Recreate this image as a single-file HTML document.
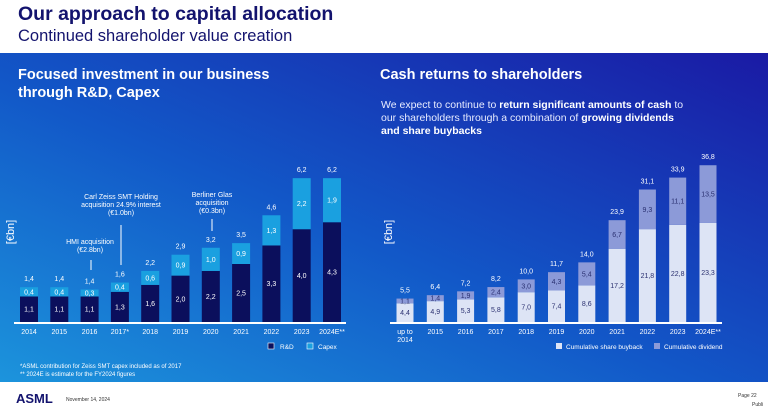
<!DOCTYPE html>
<html><head><meta charset="utf-8"><style>
html,body{margin:0;padding:0;width:768px;height:413px;overflow:hidden;background:#fff;font-family:"Liberation Sans",sans-serif}
svg text{font-family:"Liberation Sans",sans-serif}
</style></head><body>
<svg width="768" height="413" xmlns="http://www.w3.org/2000/svg">
<defs>
<linearGradient id="bg" x1="0" y1="1" x2="1" y2="0">
<stop offset="0" stop-color="#1c94dc"/><stop offset="0.45" stop-color="#1258c8"/><stop offset="1" stop-color="#1a1aa4"/>
</linearGradient>
</defs>
<text x="18" y="20" font-size="19.5" font-weight="bold" fill="#13136e">Our approach to capital allocation</text>
<text x="18" y="41" font-size="16.5" fill="#13136e">Continued shareholder value creation</text>
<rect x="0" y="53" width="768" height="329" fill="url(#bg)"/>
<text x="18" y="79" font-size="14.5" font-weight="bold" fill="#fff">Focused investment in our business</text>
<text x="18" y="97" font-size="14.5" font-weight="bold" fill="#fff">through R&amp;D, Capex</text>
<text x="380" y="79" font-size="14.5" font-weight="bold" fill="#fff">Cash returns to shareholders</text>
<text font-size="10.5" fill="#e8ecff">
<tspan x="381" y="108">We expect to continue to <tspan font-weight="bold" fill="#fff">return significant amounts of cash</tspan> to</tspan>
<tspan x="381" y="121">our shareholders through a combination of <tspan font-weight="bold" fill="#fff">growing dividends</tspan></tspan>
<tspan x="381" y="134" font-weight="bold" fill="#fff">and share buybacks</tspan>
</text>
<text transform="translate(14,232) rotate(-90)" text-anchor="middle" font-size="11" fill="#fff">[€bn]</text>
<text transform="translate(392,232) rotate(-90)" text-anchor="middle" font-size="11" fill="#fff">[€bn]</text>
<g id="left" font-size="7" fill="#fff"></g>
<g id="right" font-size="7"></g>
<g font-size="7" fill="#fff">
<text x="121" y="199" text-anchor="middle">Carl Zeiss SMT Holding</text>
<text x="121" y="207" text-anchor="middle">acquisition 24.9% interest</text>
<text x="121" y="215" text-anchor="middle">(€1.0bn)</text>
<line x1="121" y1="225" x2="121" y2="265" stroke="#fff" stroke-width="1"/>
<text x="90" y="244" text-anchor="middle">HMI acquisition</text>
<text x="90" y="252" text-anchor="middle">(€2.8bn)</text>
<line x1="91" y1="260" x2="91" y2="270" stroke="#fff" stroke-width="1"/>
<text x="212" y="197" text-anchor="middle">Berliner Glas</text>
<text x="212" y="205" text-anchor="middle">acquisition</text>
<text x="212" y="213" text-anchor="middle">(€0.3bn)</text>
<line x1="212" y1="219" x2="212" y2="231" stroke="#fff" stroke-width="1"/>
</g>
<g font-size="6.5">
<rect x="268" y="343" width="6" height="6" fill="#0b0f5c" stroke="#fff" stroke-width="0.6"/><text x="280" y="349" fill="#fff">R&amp;D</text>
<rect x="307" y="343" width="6" height="6" fill="#1aa0e0" stroke="#fff" stroke-width="0.6"/><text x="318" y="349" fill="#fff">Capex</text>
</g>
<g font-size="6.5">
<rect x="556" y="343" width="6" height="6" fill="#dde4f5"/><text x="566" y="349" fill="#fff">Cumulative share buyback</text>
<rect x="654" y="343" width="6" height="6" fill="#8c9ad8"/><text x="664" y="349" fill="#fff">Cumulative dividend</text>
</g>
<text x="20" y="368" font-size="6" fill="#fff">*ASML contribution for Zeiss SMT capex included as of 2017</text>
<text x="20" y="376" font-size="6" fill="#fff">** 2024E is estimate for the FY2024 figures</text>
<text x="16" y="403" font-size="13" font-weight="bold" fill="#13136e">ASML</text>
<text x="66" y="401" font-size="5" fill="#333">November 14, 2024</text>
<text x="738" y="397" font-size="5" fill="#333">Page 22</text>
<text x="752" y="406" font-size="5" fill="#333">Publi</text>
</svg>
<script>
const leftCats=["2014","2015","2016","2017*","2018","2019","2020","2021","2022","2023","2024E**"];
const rdValues=[1.1,1.1,1.1,1.3,1.6,2.0,2.2,2.5,3.3,4.0,4.3];
const capexValues=[0.4,0.4,0.3,0.4,0.6,0.9,1.0,0.9,1.3,2.2,1.9];
const leftTotals=["1,4","1,4","1,4","1,6","2,2","2,9","3,2","3,5","4,6","6,2","6,2"];
const rdLabels=["1,1","1,1","1,1","1,3","1,6","2,0","2,2","2,5","3,3","4,0","4,3"];
const capexLabels=["0,4","0,4","0,3","0,4","0,6","0,9","1,0","0,9","1,3","2,2","1,9"];
const rightCats=["up to|2014","2015","2016","2017","2018","2019","2020","2021","2022","2023","2024E**"];
const buybackValues=[4.4,4.9,5.3,5.8,7.0,7.4,8.6,17.2,21.8,22.8,23.3];
const dividendValues=[1.1,1.4,1.9,2.4,3.0,4.3,5.4,6.7,9.3,11.1,13.5];
const rightTotals=["5,5","6,4","7,2","8,2","10,0","11,7","14,0","23,9","31,1","33,9","36,8"];
const NS="http://www.w3.org/2000/svg";
function mk(tag,attrs,parent,txt){const e=document.createElementNS(NS,tag);for(const k in attrs)e.setAttribute(k,attrs[k]);if(txt!==undefined)e.textContent=txt;parent.appendChild(e);return e;}
const base=322;
const lx=i=>29+i*30.3, ly=v=>v*23.2, lw=18;
const L=document.getElementById('left');
mk('line',{x1:14,y1:base+1,x2:346,y2:base+1,stroke:'#fff','stroke-width':2},L);
leftCats.forEach((c,i)=>{
 const x=lx(i)-lw/2; const h1=ly(rdValues[i]), h2=ly(capexValues[i]);
 const r=mk('rect',{x:x,y:base-h1,width:lw,height:h1,fill:'#0b0f5c'},L);
 
 
 const r2=mk('rect',{x:x,y:base-h1-h2,width:lw,height:h2,fill:'#1aa0e0'},L);
 
 
 mk('text',{x:lx(i),y:base-h1/2+2.5,'text-anchor':'middle',fill:'#fff'},L,rdLabels[i]);
 mk('text',{x:lx(i),y:base-h1-h2/2+2.5,'text-anchor':'middle',fill:'#fff'},L,capexLabels[i]);
 mk('text',{x:lx(i),y:base-h1-h2-6,'text-anchor':'middle',fill:'#fff'},L,leftTotals[i]);
 const t=mk('text',{x:lx(i),y:334,'text-anchor':'middle',fill:'#fff'},L,c);
 
});
const rx=i=>405+i*30.3, ry=v=>v*4.26, rw=17;
const R=document.getElementById('right');
mk('line',{x1:390,y1:base+1,x2:722,y2:base+1,stroke:'#fff','stroke-width':2},R);
rightCats.forEach((c,i)=>{
 const x=rx(i)-rw/2; const h1=ry(buybackValues[i]), h2=ry(dividendValues[i]);
 const r=mk('rect',{x:x,y:base-h1,width:rw,height:h1,fill:'#dde4f5'},R);
 
 
 const r2=mk('rect',{x:x,y:base-h1-h2,width:rw,height:h2,fill:'#8c9ad8'},R);
 
 
 mk('text',{x:rx(i),y:base-h1/2+2.5,'text-anchor':'middle',fill:'#2a3070'},R,buybackValues[i].toFixed(1).replace('.',','));
 mk('text',{x:rx(i),y:base-h1-h2/2+2.5,'text-anchor':'middle',fill:'#2a3070'},R,dividendValues[i].toFixed(1).replace('.',','));
 mk('text',{x:rx(i),y:base-h1-h2-6,'text-anchor':'middle',fill:'#fff'},R,rightTotals[i]);
 const parts=c.split('|');
 parts.forEach((p,j)=>{const t=mk('text',{x:rx(i),y:334+j*8,'text-anchor':'middle',fill:'#fff'},R,p);
 });
});
</script>
</body></html>
